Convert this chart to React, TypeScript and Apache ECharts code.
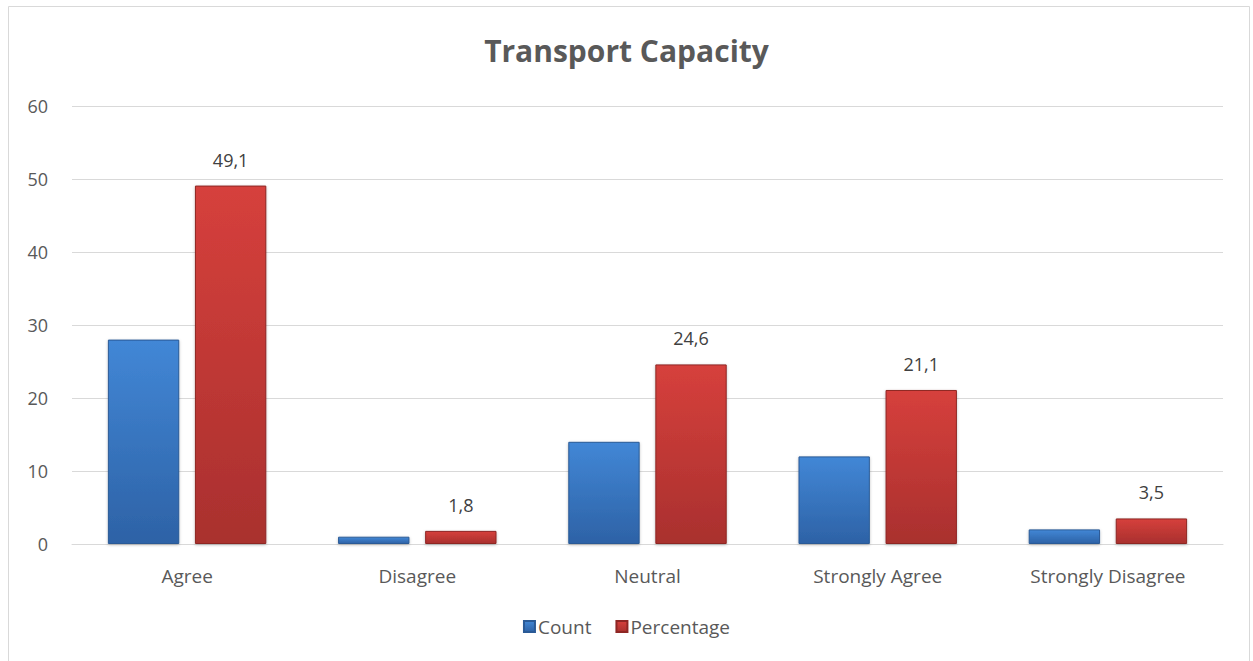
import React, { useEffect, useRef } from "react";
import * as echarts from "echarts";

const categories = ["Agree", "Disagree", "Neutral", "Strongly Agree", "Strongly Disagree"];
const countValues = [28, 1, 14, 12, 2];
const percentageValues = [49.1, 1.8, 24.6, 21.1, 3.5];
const yTicks = { min: 0, max: 60, interval: 10 };

const FONT = "'Open Sans', 'Noto Sans', sans-serif";

export default function App() {
  const ref = useRef<HTMLDivElement>(null);
  useEffect(() => {
    const chart = echarts.init(ref.current!, undefined, { renderer: "svg" });
    const blue = new echarts.graphic.LinearGradient(0, 0, 0, 1, [
      { offset: 0, color: "#4287d6" },
      { offset: 1, color: "#2d62a6" },
    ]);
    const red = new echarts.graphic.LinearGradient(0, 0, 0, 1, [
      { offset: 0, color: "#d6403c" },
      { offset: 1, color: "#a9302e" },
    ]);
    chart.setOption({
      animation: false,
      backgroundColor: "#ffffff",
      graphic: [
        {
          type: "rect",
          shape: { x: 8.5, y: 6.5, width: 1241, height: 700 },
          style: { fill: "none", stroke: "#d9d9d9", lineWidth: 1 },
          silent: true,
        },
      ],
      title: {
        text: "Transport Capacity",
        left: "center",
        top: 30,
        textStyle: { fontFamily: FONT, fontSize: 30, fontWeight: "bold", color: "#595959" },
      },
      legend: {
        bottom: 20,
        left: "center",
        itemWidth: 11,
        itemHeight: 11,
        itemGap: 24,
        icon: "rect",
        textStyle: { fontFamily: FONT, fontSize: 19, color: "#595959", padding: [0, 0, 0, -2] },
        data: ["Count", "Percentage"],
      },
      grid: { left: 72, right: 30, top: 106, bottom: 117, containLabel: false },
      xAxis: {
        type: "category",
        data: categories,
        axisLine: { lineStyle: { color: "#d9d9d9", width: 1 } },
        axisTick: { show: false },
        axisLabel: { fontFamily: FONT, fontSize: 19, color: "#595959", margin: 22 },
      },
      yAxis: {
        type: "value",
        min: yTicks.min,
        max: yTicks.max,
        interval: yTicks.interval,
        axisLine: { show: false },
        axisTick: { show: false },
        splitLine: { lineStyle: { color: "#d9d9d9", width: 1 } },
        axisLabel: { fontFamily: FONT, fontSize: 18, color: "#595959", margin: 24 },
      },
      series: [
        {
          name: "Count",
          type: "bar",
          data: countValues,
          barWidth: "31%",
          barGap: "22%",
          itemStyle: {
            color: blue,
            borderColor: "#2a5a96",
            borderWidth: 1,
            shadowColor: "rgba(0,0,0,0.25)",
            shadowBlur: 3,
            shadowOffsetY: 1,
          },
        },
        {
          name: "Percentage",
          type: "bar",
          data: percentageValues,
          barWidth: "31%",
          itemStyle: {
            color: red,
            borderColor: "#8e2624",
            borderWidth: 1,
            shadowColor: "rgba(0,0,0,0.25)",
            shadowBlur: 3,
            shadowOffsetY: 1,
          },
          label: {
            show: true,
            position: "top",
            distance: 17,
            fontFamily: FONT,
            fontSize: 18,
            color: "#404040",
            formatter: (p: any) => String(p.value).replace(".", ","),
          },
        },
      ],
    });
    return () => chart.dispose();
  }, []);
  return (
    <div
      ref={ref}
      style={{ position: "absolute", left: 0, top: 0, width: 1253, height: 661 }}
    />
  );
}
